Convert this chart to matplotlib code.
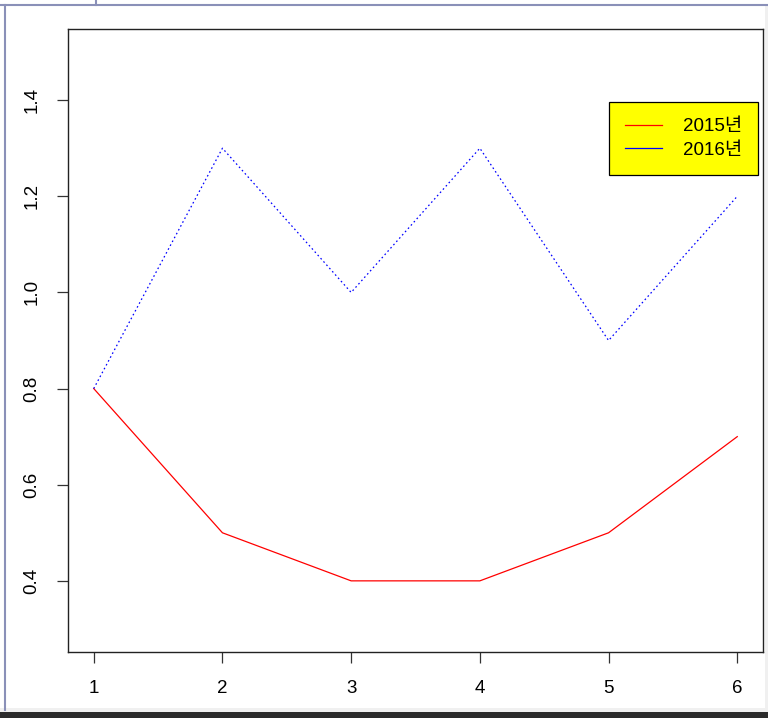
import matplotlib
matplotlib.use("Agg")
import matplotlib.pyplot as plt
from matplotlib.lines import Line2D
from matplotlib.patches import Rectangle

# ---- data ----
x_vals = [1, 2, 3, 4, 5, 6]
y_2015 = [0.8, 0.5, 0.4, 0.4, 0.5, 0.7]
y_2016 = [0.8, 1.3, 1.0, 1.3, 0.9, 1.2]
labels = ["2015년", "2016년"]
y_ticks = [0.4, 0.6, 0.8, 1.0, 1.2, 1.4]
y_tick_labels = ["0.4", "0.6", "0.8", "1.0", "1.2", "1.4"]

W, H = 768, 718
fig = plt.figure(figsize=(W / 100, H / 100), dpi=100)
fig.patch.set_facecolor("white")

# axes box in pixel coordinates
L, R, T, B = 68, 763, 29, 652
ax = fig.add_axes([L / W, 1 - B / H, (R - L) / W, (B - T) / H])

ax.plot(x_vals, y_2015, color="red", lw=0.9, solid_joinstyle="miter")
ax.plot(x_vals, y_2016, color="blue", lw=0.9, linestyle=(0, (1.3, 2.2)))

ax.set_xlim(0.8, 6.2)
ax.set_ylim(0.252, 1.548)
ax.set_xticks(x_vals)
ax.set_xticklabels([str(v) for v in x_vals], fontsize=13.5, family="Liberation Sans")
ax.set_yticks(y_ticks)
ax.set_yticklabels(y_tick_labels, fontsize=13.5, family="Liberation Sans",
                   rotation=90, va="center")
ax.tick_params(axis="both", direction="out", length=8, width=0.9, color="#333333",
               pad=12, labelcolor="black")
for s in ax.spines.values():
    s.set_color("#222222")
    s.set_linewidth(1.0)

handles = [Line2D([], [], color="red", lw=0.9), Line2D([], [], color="blue", lw=0.9)]
leg = ax.legend(handles, labels, loc="upper left",
                bbox_to_anchor=(609 / W, 1 - 102 / H), bbox_transform=fig.transFigure,
                borderaxespad=0, fancybox=False, framealpha=1,
                facecolor="yellow", edgecolor="black",
                prop={"family": ["Liberation Sans", "Noto Sans CJK KR"], "size": 13.5},
                handlelength=2.0, handletextpad=1.1, borderpad=0.85, labelspacing=0.35)
leg.get_frame().set_linewidth(0.9)

# ---- window chrome of the screenshot ----
chrome = "#8a90b8"
fig.add_artist(Line2D([0, 1], [1 - 5 / H, 1 - 5 / H], color=chrome, lw=1.5,
                      transform=fig.transFigure))
fig.add_artist(Line2D([96 / W, 96 / W], [1 - 5 / H, 1], color=chrome, lw=1.5,
                      transform=fig.transFigure))
fig.add_artist(Line2D([5 / W, 5 / W], [1 - 710 / H, 1 - 5 / H], color=chrome, lw=1.5,
                      transform=fig.transFigure))
fig.add_artist(Rectangle((765 / W, 1 - 710 / H), 3 / W, 705 / H, color="#f0f0f0",
                         transform=fig.transFigure, lw=0))
fig.add_artist(Rectangle((0, 1 - 712 / H), 1, 4 / H, color="#f0f0f0",
                         transform=fig.transFigure, lw=0))
fig.add_artist(Rectangle((0, 0), 1, 6 / H, color="#2b2b2b",
                         transform=fig.transFigure, lw=0))

fig.savefig("out.png", dpi=100)
